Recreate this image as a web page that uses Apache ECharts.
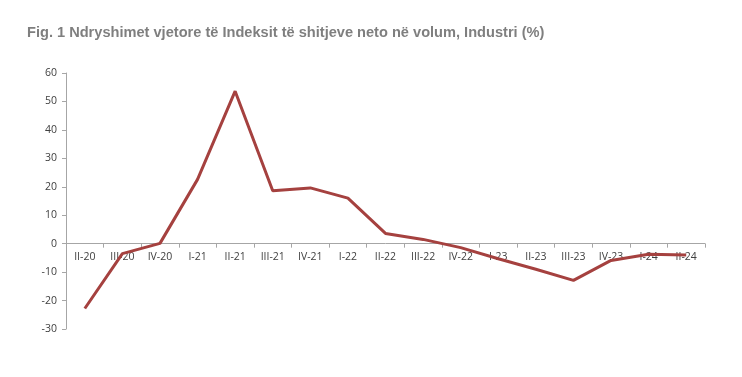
<!DOCTYPE html>
<html>
<head>
<meta charset="utf-8">
<script src="https://cdn.jsdelivr.net/npm/echarts@6/dist/echarts.min.js"></script>
<style>
  html, body { margin: 0; padding: 0; background: #fff; }
  #chart { width: 742px; height: 377px; }
</style>
</head>
<body>
<div id="chart"></div>
<script>
// quarters on the x axis
const quarters = ['II-20', 'III-20', 'IV-20', 'I-21', 'II-21', 'III-21', 'IV-21', 'I-22', 'II-22',
  'III-22', 'IV-22', 'I-23', 'II-23', 'III-23', 'IV-23', 'I-24', 'II-24'];
// annual change, %
const industry = [-22.8, -3.5, 0.1, 22.6, 53.6, 18.6, 19.6, 16.0, 3.6,
  1.5, -1.4, -5.3, -9.0, -12.9, -5.9, -3.7, -4.0];
const yTicks = [-30, 60, 10];

const chart = echarts.init(document.getElementById('chart'));
const axisGrey = '#a6a6a6';
const plotH = 377 - 73 - 48;
// x axis sits at y = 0, labels just under it
const zeroOffset = -plotH * (0 - yTicks[0]) / (yTicks[1] - yTicks[0]);

chart.setOption({
  animation: false,
  title: {
    text: 'Fig. 1 Ndryshimet vjetore të Indeksit të shitjeve neto në volum, Industri (%)',
    left: 22,
    top: 20,
    textStyle: {
      fontFamily: '"Liberation Sans Narrow", "Arial Narrow", "Liberation Sans"',
      fontWeight: 'bold',
      fontSize: 14.6,
      color: '#7f7f7f'
    }
  },
  grid: { left: 66, right: 37, top: 73, bottom: 48, containLabel: false },
  xAxis: {
    type: 'category',
    data: quarters,
    boundaryGap: true,
    offset: zeroOffset,
    axisLine: { onZero: false, lineStyle: { color: axisGrey, width: 1 } },
    axisTick: { show: true, inside: false, length: 4, lineStyle: { color: axisGrey } },
    axisLabel: {
      fontFamily: 'Open Sans',
      fontSize: 10.5,
      color: '#404040',
      margin: 8,
      interval: 0
    },
    splitLine: { show: false }
  },
  yAxis: {
    type: 'value',
    min: yTicks[0],
    max: yTicks[1],
    interval: yTicks[2],
    axisLine: { show: true, lineStyle: { color: axisGrey, width: 1 } },
    axisTick: { show: true, length: 4, lineStyle: { color: axisGrey } },
    axisLabel: {
      fontFamily: 'Open Sans',
      fontSize: 10.5,
      color: '#404040',
      margin: 9
    },
    splitLine: { show: false }
  },
  series: [{
    type: 'line',
    data: industry,
    symbol: 'none',
    lineStyle: { color: '#a5413f', width: 3 },
    z: 3
  }]
});
</script>
</body>
</html>
